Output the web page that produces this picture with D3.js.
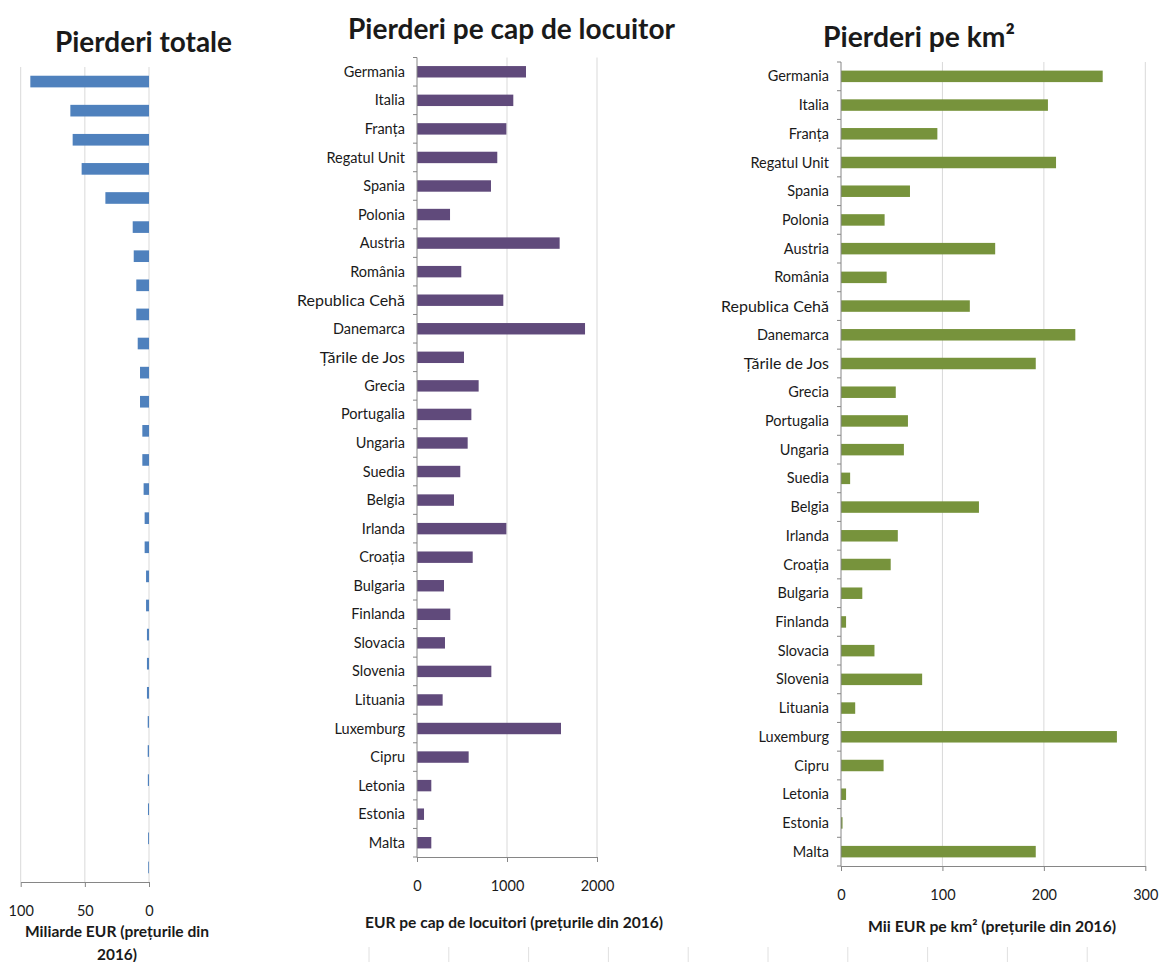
<!DOCTYPE html>
<html>
<head>
<meta charset="utf-8">
<script src="https://cdn.jsdelivr.net/npm/d3@7"></script>
<style>
  body { margin: 0; background: #fff; }
  text { font-family: Lato, "Open Sans", sans-serif; fill: #1a1a1a; }
</style>
</head>
<body>
<script>
// countries, same order in all three panels
const countries = ["Germania", "Italia", "Franța", "Regatul Unit", "Spania", "Polonia", "Austria", "România",
  "Republica Cehă", "Danemarca", "Țările de Jos", "Grecia", "Portugalia", "Ungaria", "Suedia", "Belgia",
  "Irlanda", "Croația", "Bulgaria", "Finlanda", "Slovacia", "Slovenia", "Lituania", "Luxemburg",
  "Cipru", "Letonia", "Estonia", "Malta"];

// miliarde EUR
const lossTotal = [92.5, 61.3, 59.5, 52.5, 34, 12.7, 11.9, 9.9, 9.9, 8.8, 7, 7, 5.2, 5.2,
  4.2, 3.4, 3.4, 2.3, 2.3, 1.6, 1.6, 1.6, 1.0, 1.0, 0.9, 0.8, 0.7, 0.6];
// EUR pe cap de locuitor
const lossPerCapita = [1211, 1070, 993, 892, 822, 367, 1585, 492, 959, 1867, 522, 685, 604, 563,
  481, 411, 993, 619, 300, 370, 311, 826, 285, 1600, 574, 159, 78, 159];
// mii EUR pe km2
const lossPerKm2 = [258, 204, 95, 212, 68, 43, 152, 45, 127, 231, 192, 54, 66, 62,
  9, 136, 56, 49, 21, 5, 33, 80, 14, 272, 42, 5, 1.5, 192];

const ticksTotal = [100, 50, 0];
const ticksPerCapita = [0, 1000, 2000];
const ticksPerKm2 = [0, 100, 200, 300];

const titles = ["Pierderi totale", "Pierderi pe cap de locuitor", "Pierderi pe km²"];

var width = 1160,
    height = 962;

var svg = d3.select("body").append("svg")
  .attr("width", width)
  .attr("height", height);

// squeeze text horizontally (the source picture is narrow)
function fitWidth(sel, w) {
  sel.attr("textLength", w).attr("lengthAdjust", "spacingAndGlyphs");
}

// these two labels are set a bit larger in the original
function labelSize(name) {
  return (name === "Republica Cehă" || name === "Țările de Jos") ? "16px" : "14.5px";
}

function drawPanel(cfg) {
  var g = svg.append("g");

  var x = d3.scaleLinear().domain(cfg.domain).range(cfg.range);
  var y = d3.scaleBand()
    .domain(countries)
    .range([cfg.top, cfg.bottom])
    .paddingInner(0.6)
    .paddingOuter(0.3);

  // gridlines
  g.append("g").selectAll("line")
    .data(cfg.grid)
    .join("line")
      .attr("x1", d => x(d)).attr("x2", d => x(d))
      .attr("y1", cfg.top).attr("y2", cfg.bottom)
      .attr("stroke", "#d9d9d9")
      .attr("stroke-width", 1);

  // bars
  g.append("g").selectAll("rect")
    .data(cfg.values)
    .join("rect")
      .attr("x", d => Math.min(x(0), x(d)))
      .attr("y", (d, i) => y(countries[i]))
      .attr("width", d => Math.abs(x(d) - x(0)))
      .attr("height", y.bandwidth())
      .attr("fill", cfg.color);

  // bottom axis
  var ax = g.append("g")
    .attr("transform", "translate(0," + cfg.bottom + ")")
    .call(d3.axisBottom(x)
      .tickValues(cfg.ticks)
      .tickFormat(d3.format("d"))
      .tickSize(5)
      .tickSizeOuter(0)
      .tickPadding(19));
  ax.select(".domain").attr("stroke", "#868686");
  ax.selectAll(".tick line").attr("stroke", "#868686");
  ax.selectAll(".tick text")
    .style("font-family", "Lato, sans-serif")
    .style("font-size", "14.5px")
    .attr("fill", "#1a1a1a");

  if (cfg.labels) {
    // vertical axis with ticks between categories
    g.append("line")
      .attr("x1", x(0)).attr("x2", x(0))
      .attr("y1", cfg.top).attr("y2", cfg.bottom + 0.5)
      .attr("stroke", "#868686");
    g.append("g").selectAll("line")
      .data(d3.range(countries.length + 1))
      .join("line")
        .attr("x1", x(0) - 4).attr("x2", x(0))
        .attr("y1", i => cfg.top + i * y.step()).attr("y2", i => cfg.top + i * y.step())
        .attr("stroke", "#868686");
    g.append("g").selectAll("text")
      .data(countries)
      .join("text")
        .attr("x", x(0) - 12)
        .attr("y", d => y(d) + y.bandwidth() / 2)
        .attr("dy", "0.35em")
        .attr("text-anchor", "end")
        .style("font-size", d => labelSize(d))
        .text(d => d);
  }

  // title
  g.append("text")
    .attr("x", cfg.titlePos[0]).attr("y", cfg.titlePos[1])
    .attr("text-anchor", "middle")
    .style("font-size", "29px")
    .style("font-weight", "bold")
    .attr("fill", "#000")
    .text(cfg.title)
    .call(fitWidth, cfg.titleWidth);

  // axis title
  cfg.axisTitle.forEach(function(t) {
    g.append("text")
      .attr("x", t.x).attr("y", t.y)
      .attr("text-anchor", "middle")
      .style("font-size", "14.5px")
      .style("font-weight", "bold")
      .text(t.text)
      .call(fitWidth, t.w);
  });
}

drawPanel({
  values: lossTotal, domain: [0, 100], range: [149, 20.7],
  top: 67, bottom: 882, ticks: ticksTotal, grid: [100, 50, 0],
  color: "#4f81bd", labels: false,
  title: titles[0], titlePos: [143.5, 52], titleWidth: 177,
  axisTitle: [
    { text: "Miliarde  EUR (prețurile din", x: 117, y: 937, w: 184 },
    { text: "2016)", x: 117, y: 960, w: 40 }
  ]
});

drawPanel({
  values: lossPerCapita, domain: [0, 2000], range: [417, 597],
  top: 57.5, bottom: 857, ticks: ticksPerCapita, grid: [1000, 2000],
  color: "#604a7b", labels: true,
  title: titles[1], titlePos: [511.5, 39], titleWidth: 327,
  axisTitle: [
    { text: "EUR  pe cap de locuitori (prețurile din 2016)", x: 514, y: 928, w: 298 }
  ]
});

drawPanel({
  values: lossPerKm2, domain: [0, 300], range: [841, 1145.3],
  top: 62, bottom: 866, ticks: ticksPerKm2, grid: [100, 200, 300],
  color: "#77933c", labels: true,
  title: titles[2], titlePos: [919, 47], titleWidth: 192,
  axisTitle: [
    { text: "Mii EUR  pe km² (prețurile din 2016)", x: 992, y: 932, w: 248 }
  ]
});

// faint lines of the chart below, cut off by the picture edge
svg.append("g").selectAll("line")
  .data(d3.range(10))
  .join("line")
    .attr("x1", i => 369 + i * 79.8).attr("x2", i => 369 + i * 79.8)
    .attr("y1", 947).attr("y2", height)
    .attr("stroke", "#e0e0e0");
</script>
</body>
</html>
